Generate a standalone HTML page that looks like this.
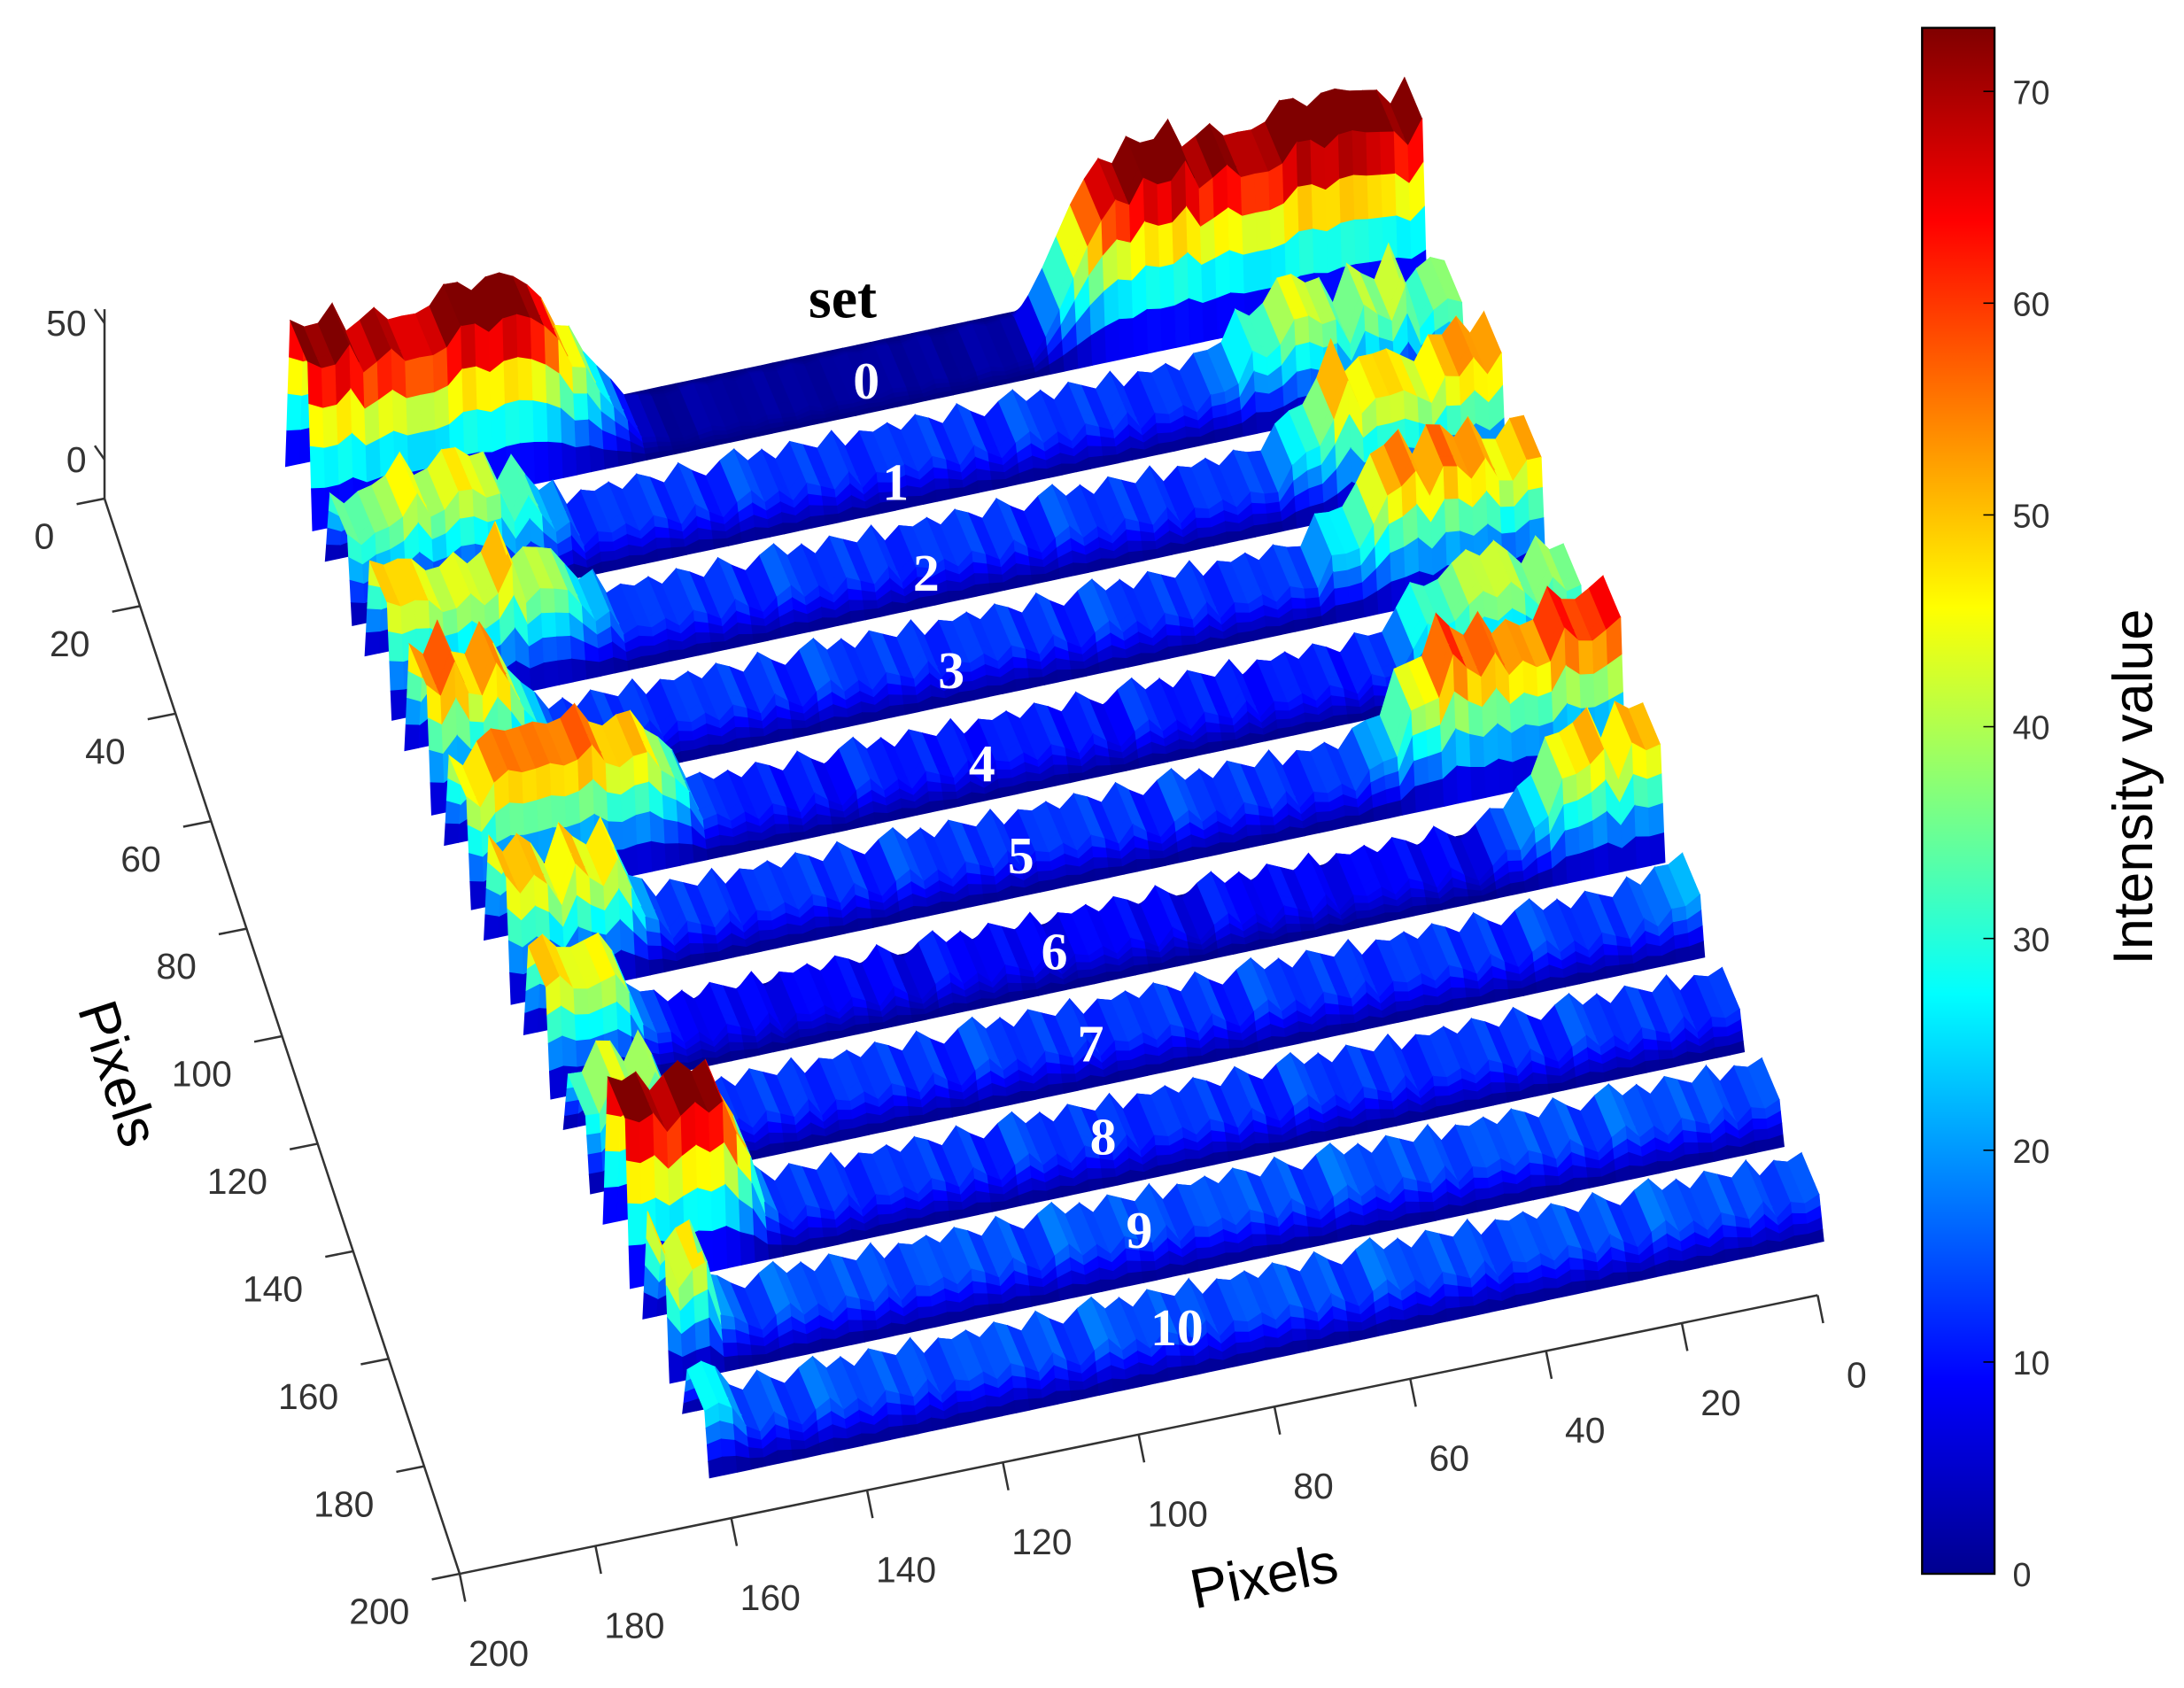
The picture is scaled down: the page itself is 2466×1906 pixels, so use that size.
<!DOCTYPE html>
<html><head><meta charset="utf-8"><style>
html,body{margin:0;padding:0;background:#fff;}
svg{display:block;}
</style></head><body>
<svg id="chart" width="2466" height="1906" viewBox="0 0 1568 1212" xmlns="http://www.w3.org/2000/svg">
<defs>
<linearGradient id="jet" x1="0" y1="1" x2="0" y2="0">
<stop offset="0" stop-color="#00008f"/>
<stop offset="0.125" stop-color="#0000ff"/>
<stop offset="0.375" stop-color="#00ffff"/>
<stop offset="0.625" stop-color="#ffff00"/>
<stop offset="0.875" stop-color="#ff0000"/>
<stop offset="1" stop-color="#800000"/>
</linearGradient>
</defs>
<g id="surface"></g>
<g id="axes"></g>
<g id="labels"></g>
<g id="cbar">
<rect x="1380" y="20" width="52" height="1110" fill="url(#jet)" stroke="#000" stroke-width="1.5"/>
</g>
<text transform="translate(1545,565) rotate(-90)" text-anchor="middle" font-family="Liberation Sans, sans-serif" font-size="40" fill="#000">Intensity value</text>
<text transform="translate(910,1145) rotate(-11)" text-anchor="middle" font-family="Liberation Sans, sans-serif" font-size="40" fill="#000">Pixels</text>
<text transform="translate(72,775) rotate(72)" text-anchor="middle" font-family="Liberation Sans, sans-serif" font-size="40" fill="#000">Pixels</text>
</svg>
<script>
// ---- data ----
const setNames = ["0","1","2","3","4","5","6","7","8","9","10"];
const baseLevel = [2,12,12,12,10,12,8,12,12,14,14];
const leftPeak = [70,38,42,52,50,45,45,35,70,45,25];
const leftEnd = [0.32,0.22,0.23,0.12,0.24,0.15,0.11,0.1,0.14,0.06,0.03];
const rightPeak = [73,36,48,48,38,56,48,30,14,14,14];
const rightStart = [0.64,0.76,0.78,0.78,0.81,0.76,0.85,0.93,1.2,1.2,1.2];
const ripple = [3,-2,4,1,-3,5,0,-4,2,6,-1,3,-3,4,1,-2,5,-4,2,0];
const cbTicks = [0,10,20,30,40,50,60,70];
const xTicks = [0,20,40,60,80,100,120,140,160,180,200];
const yTicks = [0,20,40,60,80,100,120,140,160,180,200];
const zTicks = [0,50];

const NS="http://www.w3.org/2000/svg";
function jet(v){
  let t=Math.max(0,Math.min(1,v/73));
  let r=Math.min(4*t-1.5,-4*t+4.5),g=Math.min(4*t-0.5,-4*t+3.5),b=Math.min(4*t+0.5,-4*t+2.5);
  const c=x=>Math.round(255*Math.max(0,Math.min(1,x)));
  return `rgb(${c(r)},${c(g)},${c(b)})`;
}
const Lx0=205,Ly0=335,dkx=28.5,dky=68,ux=800,uy=-170,zs=1.5;
function P(k,t,u,z){return [Lx0+dkx*(k+t)+ux*u, Ly0+dky*(k+t)+uy*u - z*zs];}
function profile(k,n,N){
  const u=n/N;
  let z=baseLevel[k]+ripple[n%ripple.length]*(k===0?0.3:1);
  const le=leftEnd[k], lp=le*0.6;
  let lf = u<lp?1:(u<le?1-(u-lp)/(le-lp):0);
  const rs=rightStart[k], rp=rs+0.1;
  let rf = u>rp?1:(u>rs?(u-rs)/0.1:0);
  lf=lf*lf*(3-2*lf); rf=rf*rf*(3-2*rf);
  const rip=ripple[(n*3+k)%ripple.length]*1.5;
  z=Math.max(z, z+(leftPeak[k]-baseLevel[k]+rip)*lf, z+(rightPeak[k]-baseLevel[k]+rip)*rf);
  return Math.max(0,z);
}
const rowsT=[0,0.03,0.06,0.09,0.12,0.45,0.56,0.59,0.62,0.65,0.68];
const rowsM=[0,0.25,0.5,0.75,1,1,1,0.75,0.5,0.25,0];
const surf=document.getElementById('surface');
const N=80;
let frag=document.createDocumentFragment();
for(let k=0;k<setNames.length;k++){
  const zs_=[];for(let n=0;n<=N;n++)zs_.push(profile(k,n,N));
  const g=document.createElementNS(NS,'g');
  
  
  for(let j=0;j<rowsT.length-1;j++){
    for(let n=0;n<N;n++){
      const a=P(k,rowsT[j],n/N,zs_[n]*rowsM[j]),b=P(k,rowsT[j],(n+1)/N,zs_[n+1]*rowsM[j]);
      const c=P(k,rowsT[j+1],(n+1)/N,zs_[n+1]*rowsM[j+1]),d=P(k,rowsT[j+1],n/N,zs_[n]*rowsM[j+1]);
      const v=(zs_[n]+zs_[n+1])/2*(rowsM[j]+rowsM[j+1])/2;
      const p=document.createElementNS(NS,'polygon');
      p.setAttribute('points',[a,b,c,d].map(q=>q[0].toFixed(1)+','+q[1].toFixed(1)).join(' '));
      const col=jet(v);
      p.setAttribute('fill',col);p.setAttribute('stroke',col);p.setAttribute('stroke-width','0.6');
      g.appendChild(p);
    }
  }
  frag.appendChild(g);
}
surf.appendChild(frag);

const ax=document.getElementById('axes');
function line(x1,y1,x2,y2,name){const l=document.createElementNS(NS,'line');
l.setAttribute('x1',x1);l.setAttribute('y1',y1);l.setAttribute('x2',x2);l.setAttribute('y2',y2);
l.setAttribute('stroke','#333');l.setAttribute('stroke-width','1.6');


ax.appendChild(l);}
function txt(x,y,s,name,size,anchor){const t=document.createElementNS(NS,'text');
t.setAttribute('x',x);t.setAttribute('y',y);t.textContent=s;t.setAttribute('font-family','Liberation Sans, sans-serif');
t.setAttribute('font-size',size);t.setAttribute('fill','#333');t.setAttribute('text-anchor',anchor||'middle');


ax.appendChild(t);return t;}
line(75,222,75,358,'z-axis-line');
const zAt=v=>330-v*(330-232)/50;
zTicks.forEach(v=>{const y=zAt(v);line(75,y,68,y-10,'z-tick');txt(62,y+9,String(v),'z-tick-label',26,'end');});
const y0=[75,358],y1=[330,1130];
line(y0[0],y0[1],y1[0],y1[1],'y-axis-line');
yTicks.forEach(v=>{const f=v/200;const x=y0[0]+(y1[0]-y0[0])*f,y=y0[1]+(y1[1]-y0[1])*f;
line(x,y,x-20,y+4,'y-tick');txt(x-36,y+36,String(v),'y-tick-label',26,'end');});
const x0=[1305,930],x1=[330,1130];
line(x0[0],x0[1],x1[0],x1[1],'x-axis-line');
xTicks.forEach(v=>{const f=v/200;const x=x0[0]+(x1[0]-x0[0])*f,y=x0[1]+(x1[1]-x0[1])*f;
line(x,y,x+4,y+20,'x-tick');txt(x+28,y+66,String(v),'x-tick-label',26,'middle');});
const cb=document.getElementById('cbar');
cbTicks.forEach(v=>{const y=1130-v*(1110/73);
const l=document.createElementNS(NS,'line');l.setAttribute('x1',1424);l.setAttribute('x2',1432);l.setAttribute('y1',y);l.setAttribute('y2',y);l.setAttribute('stroke','#000');


cb.appendChild(l);
const t=document.createElementNS(NS,'text');t.setAttribute('x',1445);t.setAttribute('y',y+9);t.textContent=String(v);
t.setAttribute('font-family','Liberation Sans, sans-serif');t.setAttribute('font-size','24');t.setAttribute('fill','#333');


cb.appendChild(t);});
const lb=document.getElementById('labels');
const setLabelPos=[[622,286],[643,359],[665,424],[683,494],[705,561],[733,627],[757,696],[783,762],[792,829],[818,896],[845,966]];
setNames.forEach((s,i)=>{const t=document.createElementNS(NS,'text');
t.setAttribute('x',setLabelPos[i][0]);t.setAttribute('y',setLabelPos[i][1]);t.textContent=s;
t.setAttribute('font-family','Liberation Serif, serif');t.setAttribute('font-weight','bold');t.setAttribute('font-size','38');
t.setAttribute('fill','#fff');t.setAttribute('text-anchor','middle');


lb.appendChild(t);});
const st=document.createElementNS(NS,'text');st.setAttribute('x',605);st.setAttribute('y',228);st.textContent='set';
st.setAttribute('font-family','Liberation Serif, serif');st.setAttribute('font-weight','bold');st.setAttribute('font-size','42');
st.setAttribute('fill','#000');st.setAttribute('text-anchor','middle');


lb.appendChild(st);
</script>
</body></html>
